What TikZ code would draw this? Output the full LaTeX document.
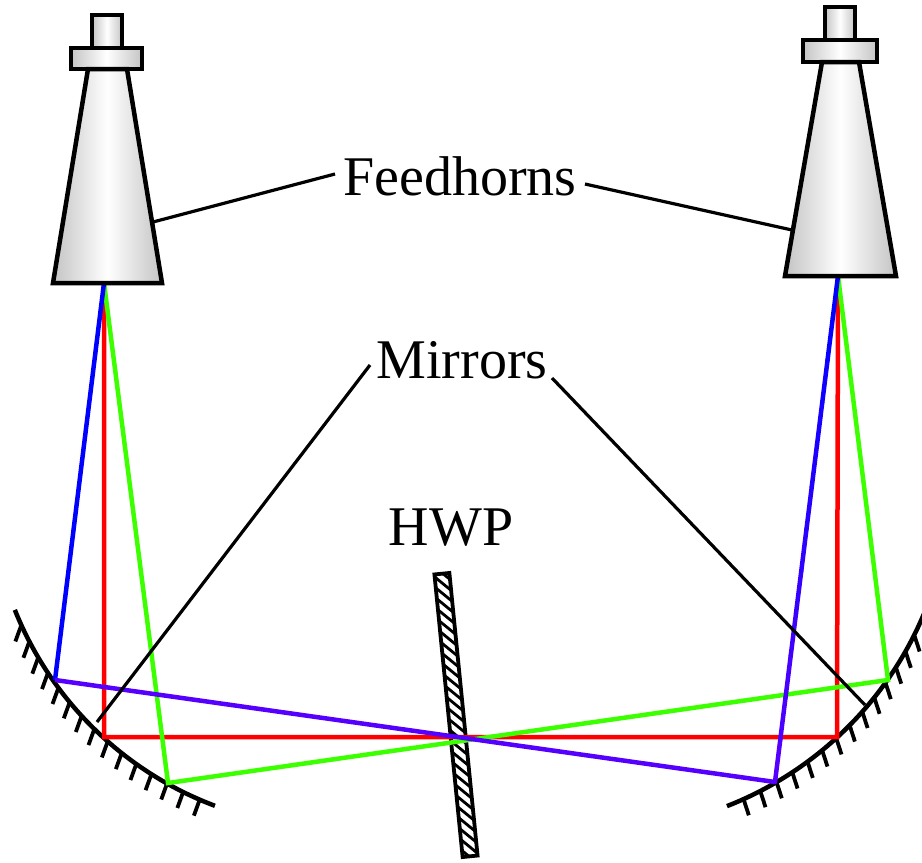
\documentclass[tikz,border=0pt]{standalone}
\usepackage{fontspec}
\setmainfont{Liberation Serif}
\usetikzlibrary{calc}
\definecolor{beamred}{RGB}{255,0,0}
\definecolor{beamgreen}{RGB}{60,255,0}
\definecolor{beamblue}{RGB}{0,0,255}
\definecolor{beampurple}{RGB}{85,0,255}
\definecolor{hornedge}{RGB}{196,196,196}
\begin{document}
\begin{tikzpicture}[x=1pt,y=-1pt,
  horn/.style={draw=black, line width=4.5pt, line join=miter,
    left color=hornedge, right color=hornedge, middle color=white},
  beam/.style={line width=4.5pt},
  leader/.style={draw=black, line width=3.2pt},
  mirrorarc/.style={draw=black, line width=4.5pt},
  mtick/.style={draw=black, line width=3.8pt},
  txt/.style={font=\fontsize{56}{60}\selectfont, inner sep=0pt, anchor=base}]
\useasboundingbox (0,0) rectangle (922,863);
\clip (0,0) rectangle (922,863);

% centres of the two curved mirrors
\coordinate (cL) at (337,481);
\coordinate (cR) at (598,477);

% beam end points
\coordinate (feedL) at (104,283);
\coordinate (feedR) at (838,276);
\coordinate (mBL) at (55,680);
\coordinate (mRL) at (104,737);
\coordinate (mGL) at (168,783);
\coordinate (mBR) at (775,782);
\coordinate (mRR) at (837,737);
\coordinate (mGR) at (888,680);

% mirrors with hatching on the back side
\draw[mirrorarc] (cL) ++(158.2:347) arc[start angle=158.2, end angle=110.6, radius=347];
\foreach \a in {155.3,152.3,...,113.2}
  \draw[mtick] (cL) ++(\a:348) -- ++(110:16);
\draw[mirrorarc] (cR) ++(68.6:353.5) arc[start angle=68.6, end angle=18, radius=353.5];
\foreach \a in {65.7,62.7,...,20}
  \draw[mtick] (cR) ++(\a:354.5) -- ++(72:16);

% half-wave plate
\begin{scope}[shift={(456,715)}, rotate=5.7]
  \coordinate (hwpc) at (0,0);
  \begin{scope}
    \clip (-7.5,-142) rectangle (7.5,142);
    \foreach \k in {-165,-154,...,165}
      \draw[line width=2.8pt] (-9,\k-9) -- (9,\k+9);
  \end{scope}
  \draw[line width=3.8pt] (-7.5,-142) rectangle (7.5,142);
\end{scope}

% beams
\draw[beam, beamred] (feedL) -- (mRL) -- (mRR) -- (feedR);
\draw[beam, beamgreen] (feedL) -- (mGL) -- (mGR) -- (feedR);
\draw[beam, beamblue] (feedL) -- (mBL);
\draw[beam, beampurple] (mBL) -- (mBR);
\foreach \i in {0,...,11} {
  \pgfmathsetmacro{\ta}{\i/12}
  \pgfmathsetmacro{\tb}{(\i+1)/12}
  \pgfmathtruncatemacro{\mix}{100-\i*100/11}
  \draw[beam, line cap=round, beampurple!\mix!beamblue]
    ($(mBR)!\ta!(feedR)$) -- ($(mBR)!\tb!(feedR)$);
}

% feedhorns
\draw[horn] (92,15) rectangle (122,48);
\draw[horn] (71,48) rectangle (142,69);
\draw[horn] (88,69) -- (127,69) -- (162,283) -- (53,283) -- cycle;
\draw[horn] (825,7) rectangle (855,40);
\draw[horn] (803,40) rectangle (877,62);
\draw[horn] (822,62) -- (859,62) -- (896,276) -- (785,276) -- cycle;

% labels
\node[txt] (fh) at (460,195) {Feedhorns};
\node[txt] (mi) at (462,378) {Mirrors};
\node[txt] (hwp) at (451,545) {HWP};

% leader lines
\coordinate (fhL) at (335,174);
\coordinate (fhR) at (585,184);
\coordinate (hornL) at (153,222);
\coordinate (hornR) at (792,230);
\coordinate (miL) at (370,365);
\coordinate (miR) at (552,378);
\coordinate (mirL) at (97,722);
\coordinate (mirR) at (865,705);
\draw[leader] (fhL) -- (hornL);
\draw[leader] (fhR) -- (hornR);
\draw[leader] (miL) -- (mirL);
\draw[leader] (miR) -- (mirR);
\end{tikzpicture}
\end{document}
